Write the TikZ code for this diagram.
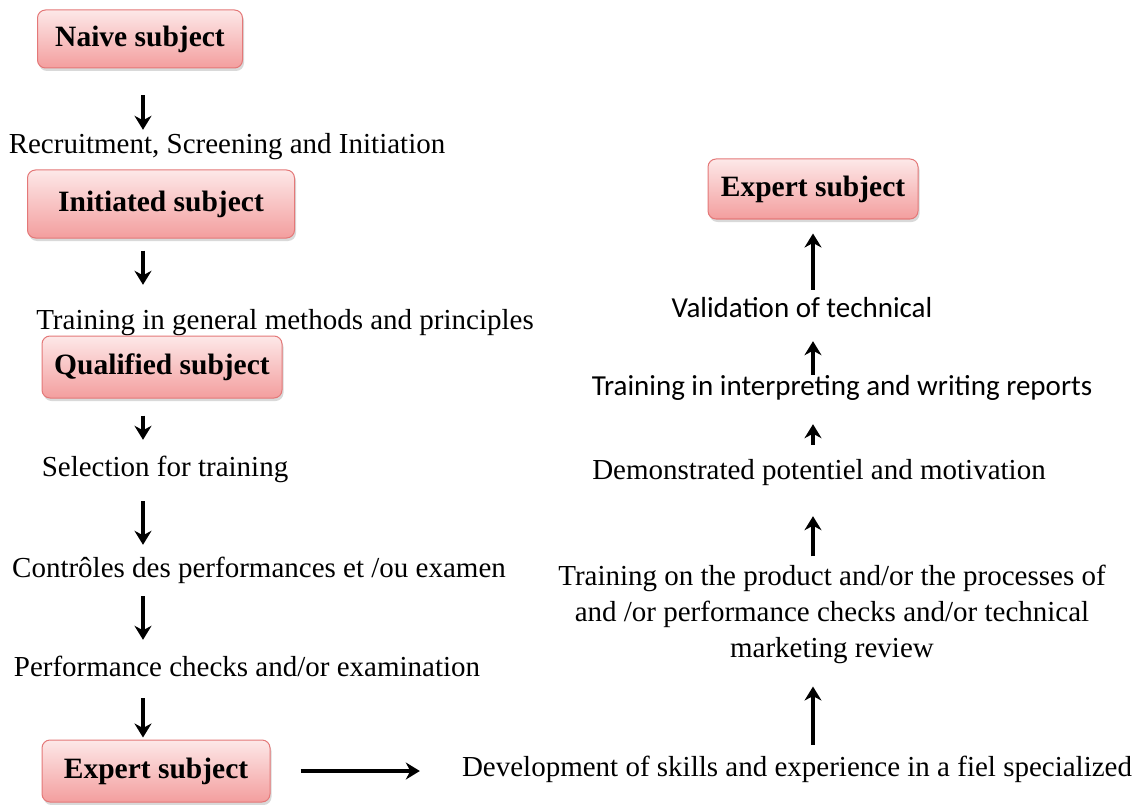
\documentclass[tikz,border=0pt]{standalone}
\usepackage{fontspec}
\setmainfont{Liberation Serif}
\newfontfamily\calibri{Carlito}
\usetikzlibrary{arrows.meta, shadows}

\definecolor{boxtop}{RGB}{253,232,232}
\definecolor{boxbot}{RGB}{243,158,158}
\definecolor{boxline}{RGB}{228,120,120}

\tikzset{
    subject/.style={draw=boxline, line width=1pt, rounded corners=8pt,
        top color=boxtop, bottom color=boxbot,
        drop shadow={opacity=0.3, shadow xshift=1.5pt, shadow yshift=-3pt},
        font=\fontsize{29.5}{34}\selectfont\bfseries, minimum height=58pt, inner sep=0pt},
    stage/.style={font=\fontsize{29}{34}\selectfont, inner sep=0pt, text height=18pt, text depth=6pt},
    stagesf/.style={stage, font=\calibri\fontsize{29}{34}\selectfont},
    flow/.style={line width=3.6pt, -{Stealth[length=14pt, width=17pt, inset=4.5pt]}}
}

\begin{document}
\begin{tikzpicture}[x=1pt, y=-1pt]
        \useasboundingbox (0, 0) rectangle (1140, 805);

        \node[subject, minimum width=205pt] (naive) at (140, 39) {Naive subject};
        \node[stage] (recruit) at (227, 148) {Recruitment, Screening and Initiation};
        \node[subject, minimum width=267pt, minimum height=68pt] (initiated) at (161, 204) {Initiated subject};
        \node[stage] (general) at (285, 323) {Training in general methods and principles};
        \node[subject, minimum width=240pt, minimum height=62pt] (qualified) at (162, 367) {Qualified subject};
        \node[stage] (selection) at (165, 470) {Selection for training};
        \node[stage] (controles) at (259, 571) {Contrôles des performances et /ou examen};
        \node[stage] (checks) at (247, 670) {Performance checks and/or examination};
        \node[subject, minimum width=228pt, minimum height=62pt] (expert) at (156, 771) {Expert subject};

        \node[stage] (skills) at (797, 770) {Development of skills and experience in a fiel specialized};
        \node[stage, align=center, font=\fontsize{29}{36}\selectfont, text height=, text depth=] (product) at (832, 614)
            {Training on the product and/or the processes of\\and /or performance checks and/or technical\\marketing review};
        \node[stage] (demo) at (819, 473) {Demonstrated potentiel and motivation};
        \node[stagesf] (reports) at (842, 389) {Training in interpreting and writing reports};
        \node[stagesf] (validation) at (802, 311) {Validation of technical};
        \node[subject, minimum width=210pt, minimum height=60pt] (expertup) at (813, 189) {Expert subject};

        \coordinate (lspine) at (143, 0);
        \coordinate (rspine) at (813, 0);

        \draw[flow, shorten <=27pt, shorten >=6pt] (naive.south -| lspine) -- (recruit.north -| lspine);
        \draw[flow, shorten <=12pt, shorten >=26pt] (initiated.south -| lspine) -- (general.north -| lspine);
        \draw[flow, shorten <=17pt, shorten >=18pt] (qualified.south -| lspine) -- (selection.north -| lspine);
        \draw[flow, shorten <=19pt, shorten >=14pt] (selection.south -| lspine) -- (controles.north -| lspine);
        \draw[flow, shorten <=13pt, shorten >=18pt] (controles.south -| lspine) -- (checks.north -| lspine);
        \draw[flow, shorten <=16pt, shorten >=2pt] (checks.south -| lspine) -- (expert.north -| lspine);

        \draw[flow, shorten <=30pt, shorten >=42pt] (expert.east) -- (skills.west |- expert.east);

        \draw[flow, shorten <=13pt, shorten >=23pt] (skills.north -| rspine) -- (product.south -| rspine);
        \draw[flow, shorten <=8pt, shorten >=31pt] (product.north -| rspine) -- (demo.south -| rspine);
        \draw[flow, shorten <=16pt, shorten >=23pt] (demo.north -| rspine) -- (reports.south -| rspine);
        \draw[flow, shorten <=2pt, shorten >=18pt] (reports.north -| rspine) -- (validation.south -| rspine);
        \draw[flow, shorten <=9pt, shorten >=14pt] (validation.north -| rspine) -- (expertup.south -| rspine);
    \end{tikzpicture}
\end{document}
